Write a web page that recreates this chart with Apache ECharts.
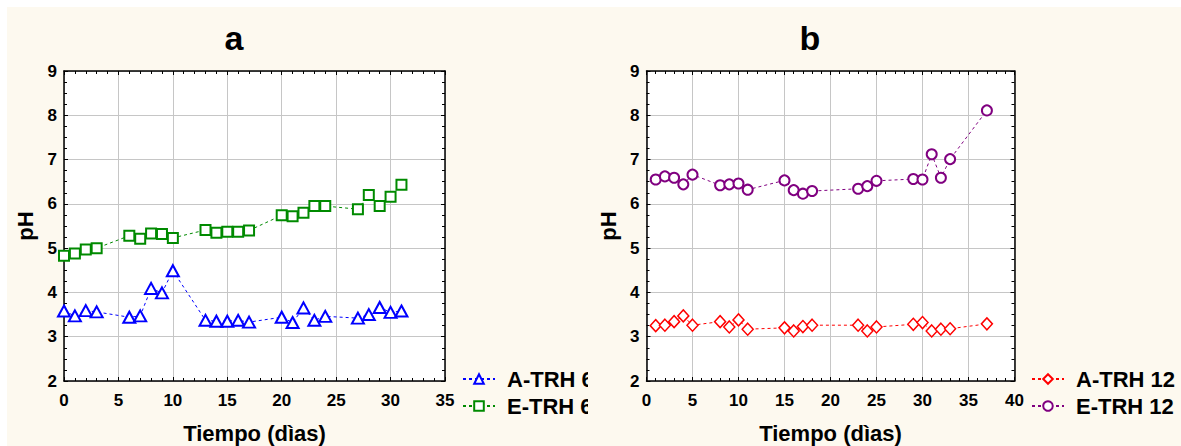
<!DOCTYPE html>
<html>
<head>
<meta charset="utf-8">
<script src="https://cdn.jsdelivr.net/npm/echarts@6/dist/echarts.min.js"></script>
<style>
  html, body { margin: 0; padding: 0; background: #ffffff; }
  #sheet { position: absolute; left: 7px; top: 7px; width: 1174px; height: 439px; background: #fdf9ef; }
  .panel { position: absolute; top: 0; height: 446px; overflow: hidden; }
  #left { left: 0; width: 588px; }
  #right { left: 588px; width: 593px; }
</style>
</head>
<body>
<div id="sheet"></div>
<div id="left" class="panel"></div>
<div id="right" class="panel"></div>
<script>
// Panel a: treatments at 6
const daysA = [0, 1, 2, 3, 6, 7, 8, 9, 10, 13, 14, 15, 16, 17, 20, 21, 22, 23, 24, 27, 28, 29, 30, 31];
const phA_TRH6 = [3.58, 3.47, 3.59, 3.56, 3.44, 3.47, 4.09, 3.99, 4.49, 3.37, 3.35, 3.35, 3.37, 3.33,
                  3.44, 3.32, 3.65, 3.37, 3.46, 3.42, 3.50, 3.66, 3.55, 3.58];
const phE_TRH6 = [4.83, 4.88, 4.97, 5.00, 5.28, 5.21, 5.33, 5.32, 5.23, 5.41, 5.35, 5.37, 5.37, 5.40,
                  5.74, 5.72, 5.80, 5.95, 5.95, 5.88, 6.20, 5.95, 6.16, 6.43];

// Panel b: treatments at 12
const daysB = [1, 2, 3, 4, 5, 8, 9, 10, 11, 15, 16, 17, 18, 23, 24, 25, 29, 30, 31, 32, 33, 37];
const phA_TRH12 = [3.25, 3.26, 3.34, 3.47, 3.26, 3.34, 3.22, 3.38, 3.17, 3.20, 3.13, 3.23, 3.26,
                   3.26, 3.13, 3.22, 3.28, 3.32, 3.13, 3.17, 3.18, 3.29];
const phE_TRH12 = [6.55, 6.62, 6.59, 6.44, 6.66, 6.42, 6.44, 6.46, 6.32, 6.53, 6.31, 6.23, 6.29,
                   6.34, 6.40, 6.52, 6.56, 6.55, 7.12, 6.59, 7.01, 8.11];

const yTicks = { min: 2, max: 9, interval: 1 };
const xTitle = 'Tiempo (dìas)';
const yTitle = 'pH';

const FONT = "'Liberation Sans', Arial, sans-serif";

function pairs(xs, ys) { return xs.map((x, i) => [x, ys[i]]); }

// Secondary axes that close the plot frame on the top and right, with inward ticks only
function frameAxis(base, extra) {
  return Object.assign({
    axisLine: { show: true, onZero: false, lineStyle: { color: '#000', width: 1.5 } },
    axisTick: { show: true, inside: true, length: 4, lineStyle: { color: '#000', width: 1 } },
    splitLine: { show: false },
    axisLabel: { show: false }
  }, base, extra);
}

function makeSeries(name, data, color, symbol, size, bw) {
  return {
    name, type: 'line', data, symbol, symbolSize: size,
    showSymbol: true, animation: false, z: 3,
    lineStyle: { color, width: 1, type: [3, 3] },
    itemStyle: { color: '#ffffff', borderColor: color, borderWidth: bw }
  };
}

function panelOption(cfg) {
  const xBase = { type: 'value', min: 0, max: cfg.xMax, interval: 5 };
  const yBase = { type: 'value', min: yTicks.min, max: yTicks.max, interval: yTicks.interval };
  const tickFont = { color: '#000', fontSize: 17, fontWeight: 'bold', fontFamily: FONT };
  const nameFont = { color: '#000', fontSize: 22, fontWeight: 'bold', fontFamily: FONT };
  const minorX = { show: true, splitNumber: 5, length: 3, lineStyle: { color: '#000', width: 1 } };
  const minorY = { show: true, splitNumber: 4, length: 3, lineStyle: { color: '#000', width: 1 } };
  return {
    animation: false,
    grid: { left: cfg.gridLeft, right: cfg.gridRight, top: 71, bottom: 65, containLabel: false,
            outerBoundsMode: 'none',
            show: true, backgroundColor: '#ffffff', borderWidth: 0 },
    graphic: [{
      type: 'text', x: cfg.titleX, y: 38,
      style: { text: cfg.title, font: 'bold 34px ' + FONT, fill: '#000', align: 'center', verticalAlign: 'middle' }
    }],
    legend: {
      orient: 'vertical', left: cfg.legendLeft, top: 368, padding: 0,
      itemWidth: 32, itemHeight: 12, itemGap: 5,
      textStyle: { color: '#000', fontSize: 22, fontWeight: 'bold', fontFamily: FONT, padding: [0, 0, 0, 7] },
      data: cfg.series.map(s => s.name)
    },
    xAxis: [
      {
        type: 'value', min: 0, max: cfg.xMax, interval: 5, position: 'bottom',
        name: xTitle, nameLocation: 'middle', nameGap: 41, nameTextStyle: nameFont,
        axisLine: { show: true, onZero: false, lineStyle: { color: '#000', width: 1.5 } },
        axisTick: { show: true, inside: true, length: 4, lineStyle: { color: '#000', width: 1 } },
        minorTick: minorX,
        splitLine: { show: true, lineStyle: { color: '#c6c6c6', width: 1 } },
        axisLabel: Object.assign({ margin: 11 }, tickFont)
      },
      frameAxis(xBase, { position: 'top', minorTick: minorX })
    ],
    yAxis: [
      {
        type: 'value', min: yTicks.min, max: yTicks.max, interval: yTicks.interval, position: 'left',
        name: yTitle, nameLocation: 'middle', nameGap: 25, nameTextStyle: nameFont,
        axisLine: { show: true, onZero: false, lineStyle: { color: '#000', width: 1.5 } },
        axisTick: { show: true, inside: true, length: 4, lineStyle: { color: '#000', width: 1 } },
        minorTick: minorY,
        splitLine: { show: true, lineStyle: { color: '#c6c6c6', width: 1 } },
        axisLabel: Object.assign({ margin: 7 }, tickFont)
      },
      frameAxis(yBase, { position: 'right', minorTick: minorY })
    ],
    series: cfg.series
  };
}

const chartA = echarts.init(document.getElementById('left'), null, { renderer: 'svg', width: 588, height: 446 });
chartA.setOption(panelOption({
  title: 'a', titleX: 234, xMax: 35, gridLeft: 64, gridRight: 588 - 445, legendLeft: 462,
  series: [
    makeSeries('A-TRH 6', pairs(daysA, phA_TRH6), '#0000ff', 'triangle', [12, 11], 2),
    makeSeries('E-TRH 6', pairs(daysA, phE_TRH6), '#008a00', 'rect', 10, 2)
  ]
}));

const chartB = echarts.init(document.getElementById('right'), null, { renderer: 'svg', width: 593, height: 446 });
chartB.setOption(panelOption({
  title: 'b', titleX: 810 - 588, xMax: 40, gridLeft: 646.5 - 588, gridRight: 1181 - 1014.5, legendLeft: 1031 - 588,
  series: [
    makeSeries('A-TRH 12', pairs(daysB, phA_TRH12), '#ff0000', 'diamond', [11, 12], 1.5),
    makeSeries('E-TRH 12', pairs(daysB, phE_TRH12), '#800080', 'circle', 10, 2)
  ]
}));
</script>
</body>
</html>
